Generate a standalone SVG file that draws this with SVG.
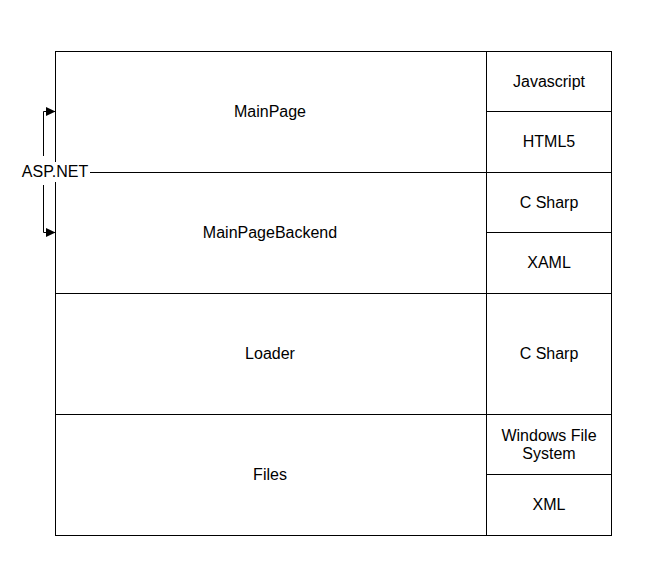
<svg xmlns="http://www.w3.org/2000/svg" width="661" height="582" viewBox="0 0 661 582">
<defs>
<style>
.c{fill:#fff;stroke:#000;stroke-width:1}
.t{font-family:"Liberation Sans",Arial,sans-serif;font-size:16px;fill:#000;text-anchor:middle;dominant-baseline:central}
.e{fill:none;stroke:#000;stroke-width:1}
</style>
<marker id="ah" markerWidth="10" markerHeight="10" refX="9" refY="5" orient="auto" markerUnits="userSpaceOnUse">
<path d="M0,0.5 L9.5,5 L0,9.5 Z" fill="#000"/>
</marker>
</defs>
<rect width="661" height="582" fill="#fff"/>
<g id="mainpage"><rect class="c" x="55.5" y="51.5" width="431" height="121"/><text class="t" x="270" y="111">MainPage</text></g>
<g id="mainpagebackend"><rect class="c" x="55.5" y="172.5" width="431" height="121"/><text class="t" x="270" y="232">MainPageBackend</text></g>
<g id="loader"><rect class="c" x="55.5" y="293.5" width="431" height="121"/><text class="t" x="270" y="353">Loader</text></g>
<g id="files"><rect class="c" x="55.5" y="414.5" width="431" height="121"/><text class="t" x="270" y="474">Files</text></g>
<g id="javascript"><rect class="c" x="486.5" y="51.5" width="125" height="60"/><text class="t" x="549" y="81">Javascript</text></g>
<g id="html5"><rect class="c" x="486.5" y="111.5" width="125" height="61"/><text class="t" x="549" y="141">HTML5</text></g>
<g id="csharp1"><rect class="c" x="486.5" y="172.5" width="125" height="60"/><text class="t" x="549" y="202">C Sharp</text></g>
<g id="xaml"><rect class="c" x="486.5" y="232.5" width="125" height="61"/><text class="t" x="549" y="262">XAML</text></g>
<g id="csharp2"><rect class="c" x="486.5" y="293.5" width="125" height="121"/><text class="t" x="549" y="353">C Sharp</text></g>
<g id="wfs"><rect class="c" x="486.5" y="414.5" width="125" height="60"/><text class="t" x="549" y="435">Windows File</text><text class="t" x="549" y="453">System</text></g>
<g id="xml"><rect class="c" x="486.5" y="474.5" width="125" height="61"/><text class="t" x="549" y="504">XML</text></g>
<g id="aspnet"><rect x="20" y="162" width="70" height="20" fill="#fff"/><text class="t" x="55" y="171">ASP.NET</text></g>
<g id="connectors">
<path class="e" d="M43.5,156 V111.5 H55" marker-end="url(#ah)"/>
<path class="e" d="M43.5,185 V232.5 H55" marker-end="url(#ah)"/>
</g>
</svg>
